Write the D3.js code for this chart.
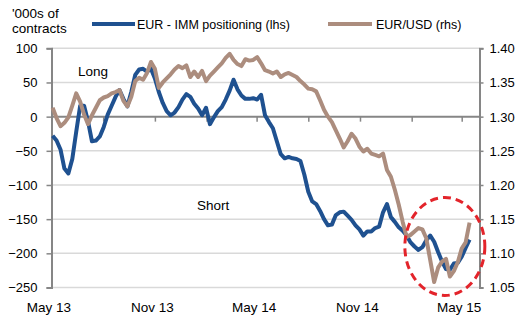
<!DOCTYPE html>
<html>
<head>
<meta charset="utf-8">
<script src="https://cdn.jsdelivr.net/npm/d3@7"></script>
<style>
  html, body { margin: 0; padding: 0; background: #fff; }
  svg { display: block; font-family: "Liberation Sans", Arial, sans-serif; }
</style>
</head>
<body>
<svg id="chart" width="528" height="323"></svg>
<script>
// Weekly observations, first week ending 3 May 2013
const firstWeek = new Date(2013, 4, 3);

// EUR non-commercial net positioning at the IMM, '000s of contracts (lhs)
const immPositioning = [
  -28, -35, -48, -76, -83, -62, -22, 16, 16, -7,
  -36, -35, -29, -15, 3, 16, 29, 39, 26, 15,
  36, 61, 69, 70, 66, 70, 56, 36, 20, 8,
  2, 6, 14, 25, 33, 29, 19, 12, 2, 13,
  -11, -1, 8, 14, 25, 38, 54, 40, 31, 26,
  26, 27, 25, 32, 2, -8, -17, -36, -55, -61,
  -59, -61, -62, -65, -85, -110, -124, -128, -138, -150,
  -159, -158, -144, -140, -139, -145, -151, -159, -165, -174,
  -168, -168, -163, -161, -140, -128, -147, -154, -162, -167,
  -174, -184, -190, -195, -191, -181, -174, -183, -198, -212,
  -223, -224, -215, -214, -205, -192, -180
];

// EUR/USD spot (rhs)
const eurUsd = [
  1.313, 1.298, 1.286, 1.291, 1.299, 1.316, 1.334, 1.322, 1.303, 1.289,
  1.302, 1.313, 1.324, 1.328, 1.330, 1.334, 1.336, 1.339, 1.323, 1.315,
  1.329, 1.352, 1.357, 1.354, 1.364, 1.380, 1.370, 1.342, 1.350, 1.356,
  1.362, 1.369, 1.374, 1.371, 1.375, 1.358, 1.366, 1.358, 1.367, 1.352,
  1.360, 1.366, 1.372, 1.378, 1.386, 1.392, 1.383, 1.377, 1.374, 1.384,
  1.382, 1.383, 1.387, 1.378, 1.368, 1.366, 1.363, 1.366, 1.358, 1.362,
  1.364, 1.361, 1.358, 1.352, 1.347, 1.341, 1.340, 1.337, 1.324, 1.310,
  1.300, 1.292, 1.280, 1.268, 1.255, 1.264, 1.275, 1.268, 1.256, 1.249,
  1.253, 1.246, 1.244, 1.242, 1.246, 1.222, 1.212, 1.193, 1.171, 1.146,
  1.124, 1.127, 1.132, 1.137, 1.135, 1.122, 1.090, 1.058, 1.079, 1.088,
  1.092, 1.066, 1.074, 1.087, 1.107, 1.116, 1.145
];

const leftTicks = [100, 50, 0, -50, -100, -150, -200, -250];
const rightTicks = [1.40, 1.35, 1.30, 1.25, 1.20, 1.15, 1.10, 1.05];
const dateTickLabels = ["May 13", "Nov 13", "May 14", "Nov 14", "May 15"];
const seriesNames = ["EUR - IMM positioning (lhs)", "EUR/USD (rhs)"];
const regionLabels = ["Long", "Short"];

// one date per weekly observation
const dates = d3.range(immPositioning.length).map(i => d3.timeDay.offset(firstWeek, 7 * i));

const blue = "#1f5190";
const brown = "#ac8d7e";
const gridColor = "#d9d9d9";
const axisColor = "#868686";

const svg = d3.select("#chart");

const plotLeft = 51.5, plotRight = 479.5, plotTop = 48.3, plotBottom = 287.5;

const x = d3.scaleTime()
  .domain([new Date(2013, 4, 1), new Date(2015, 4, 1)])
  .range([plotLeft, 461.7]);
const y = d3.scaleLinear().domain([-250, 100]).range([plotBottom, plotTop]);
const y2 = d3.scaleLinear().domain([1.05, 1.40]).range([plotBottom, plotTop]);

// horizontal gridlines
svg.append("g").selectAll("line").data(leftTicks.filter(v => v !== 0)).join("line")
  .attr("x1", plotLeft).attr("x2", plotRight)
  .attr("y1", d => y(d)).attr("y2", d => y(d))
  .attr("stroke", gridColor).attr("stroke-width", 1.5);

// left axis
const yAxis = svg.append("g").attr("transform", `translate(${plotLeft},0)`)
  .call(d3.axisLeft(y).tickValues(leftTicks).tickSize(5).tickPadding(9));
// right axis
const y2Axis = svg.append("g").attr("transform", `translate(${plotRight},0)`)
  .call(d3.axisRight(y2).tickValues(rightTicks).tickSize(4).tickPadding(6).tickFormat(d3.format(".2f")));

[yAxis, y2Axis].forEach(g => {
  g.select(".domain").attr("stroke", axisColor).attr("stroke-width", 2);
  g.selectAll(".tick line").attr("stroke", axisColor).attr("stroke-width", 1.5);
  g.selectAll(".tick text").attr("fill", "#000").style("font-size", "13px")
    .style("font-family", "'Liberation Sans', Arial, sans-serif").attr("dy", "0.34em");
});

// horizontal axis crosses at zero, quarterly tick marks from May 2013
const xTicks = d3.timeMonth.range(new Date(2013, 4, 1), new Date(2015, 4, 2), 3);
const xAxis = svg.append("g").attr("transform", `translate(0,${y(0)})`)
  .call(d3.axisBottom(x).tickValues(xTicks).tickSize(5).tickFormat(""));
xAxis.select(".domain").attr("d", `M${plotLeft},0H${plotRight}`).attr("stroke", axisColor).attr("stroke-width", 2);
xAxis.selectAll(".tick line").attr("stroke", axisColor).attr("stroke-width", 1.5);

// date labels every six months along the bottom
const parseLabel = d3.timeParse("%b %y");
svg.append("g").selectAll("text").data(dateTickLabels).join("text")
  .attr("x", d => x(parseLabel(d)) - 2.5).attr("y", 312)
  .attr("text-anchor", "middle")
  .style("font-size", "13.5px")
  .attr("fill", "#000")
  .text(d => d);

// series lines
const lineL = d3.line().x((d, i) => x(dates[i])).y(d => y(d));
const lineR = d3.line().x((d, i) => x(dates[i])).y(d => y2(d));

svg.append("path").datum(immPositioning)
  .attr("d", lineL).attr("fill", "none")
  .attr("stroke", blue).attr("stroke-width", 4)
  .attr("stroke-linejoin", "round");

svg.append("path").datum(eurUsd)
  .attr("d", lineR).attr("fill", "none")
  .attr("stroke", brown).attr("stroke-width", 4)
  .attr("stroke-linejoin", "round");

// highlight around the recent rebound
svg.append("ellipse")
  .attr("cx", x(new Date(2015, 3, 1))).attr("cy", y(-190))
  .attr("rx", 40).attr("ry", 49)
  .attr("fill", "none").attr("stroke", "#e3242b")
  .attr("stroke-width", 3).attr("stroke-dasharray", "8,5");

// region labels
svg.append("text").attr("x", 78).attr("y", 76).style("font-size", "13.5px").text(regionLabels[0]);
svg.append("text").attr("x", 197).attr("y", 210).style("font-size", "13.5px").text(regionLabels[1]);

// unit label
const unit = svg.append("text").style("font-size", "13.5px");
unit.append("tspan").attr("x", 12).attr("y", 18).text("'000s of");
unit.append("tspan").attr("x", 12).attr("y", 33).text("contracts");

// legend
const legend = svg.append("g");
legend.append("line").attr("x1", 92).attr("x2", 135).attr("y1", 24).attr("y2", 24)
  .attr("stroke", blue).attr("stroke-width", 4);
legend.append("text").attr("x", 137).attr("y", 28.5).style("font-size", "12.5px").text(seriesNames[0]);
legend.append("line").attr("x1", 328).attr("x2", 372).attr("y1", 24).attr("y2", 24)
  .attr("stroke", brown).attr("stroke-width", 4);
legend.append("text").attr("x", 376).attr("y", 28.5).style("font-size", "12.5px").text(seriesNames[1]);
</script>
</body>
</html>
